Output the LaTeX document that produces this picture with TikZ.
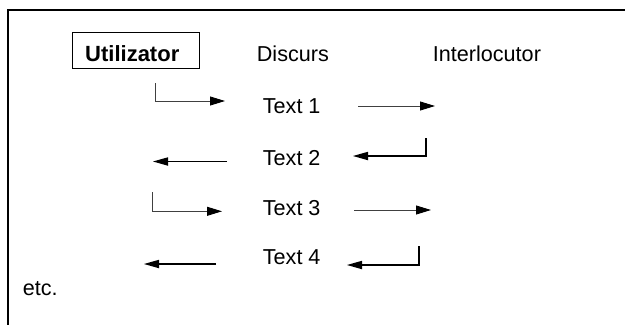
\documentclass[tikz,border=0pt]{standalone}
\usepackage{fontspec}
\setmainfont{Liberation Sans}
\usetikzlibrary{arrows.meta}
\begin{document}
\begin{tikzpicture}[x=1pt,y=-1pt,
  lbl/.style={anchor=base west,inner sep=0pt,font=\fontsize{21.6}{26}\selectfont},
  thinarr/.style={line width=0.9pt,black!75,-{Triangle[length=15pt,width=9pt,color=black,fill=black]}},
  thickarr/.style={line width=1.8pt,black,-{Triangle[length=15pt,width=8.5pt,line width=0pt]}},
  frame/.style={line width=2pt,black}]
\useasboundingbox (0,0) rectangle (625,325);
% frame
\coordinate (ftr) at (625,10);
\coordinate (ftl) at (8,10);
\coordinate (fbl) at (8,325);
\draw[frame] (ftr) -- (ftl) -- (fbl);
% header
\node[draw,line width=0.8pt,minimum width=126.3pt,minimum height=36pt,inner sep=0pt] (box) at (135.85,50.3) {};
\node[lbl,font=\fontsize{22}{26}\selectfont\bfseries] (util) at (85,61.7) {Utilizator};
\node[lbl] (disc) at (256.7,61) {Discurs};
\node[lbl] (inter) at (432.7,61) {Interlocutor};
% texts
\node[lbl] (t1) at (262.7,113.7) {Text 1};
\node[lbl] (t2) at (262.7,165) {Text 2};
\node[lbl] (t3) at (262.7,215.7) {Text 3};
\node[lbl] (t4) at (262.7,264.3) {Text 4};
\node[lbl] (etc) at (22.7,295) {etc.};
% row 1
\coordinate (a1s) at (155,83);
\coordinate (a1e) at (225,101);
\draw[thinarr] (a1s) |- (a1e);
\coordinate (b1s) at (358,106);
\coordinate (b1e) at (435,106);
\draw[thinarr] (b1s) -- (b1e);
% row 2
\coordinate (a2s) at (227,161.5);
\coordinate (a2e) at (153,161.5);
\draw[thickarr] (a2s) -- (a2e);
\coordinate (b2s) at (426,138);
\coordinate (b2e) at (353,156);
\draw[thickarr] (b2s) |- (b2e);
% row 3
\coordinate (a3s) at (152,192);
\coordinate (a3e) at (222,211.3);
\draw[thinarr] (a3s) |- (a3e);
\coordinate (b3s) at (354,210);
\coordinate (b3e) at (431,210);
\draw[thinarr] (b3s) -- (b3e);
% row 4
\coordinate (a4s) at (216,264);
\coordinate (a4e) at (144,264);
\draw[thickarr] (a4s) -- (a4e);
\coordinate (b4s) at (419,246);
\coordinate (b4e) at (347,265);
\draw[thickarr] (b4s) |- (b4e);
\end{tikzpicture}
\end{document}
